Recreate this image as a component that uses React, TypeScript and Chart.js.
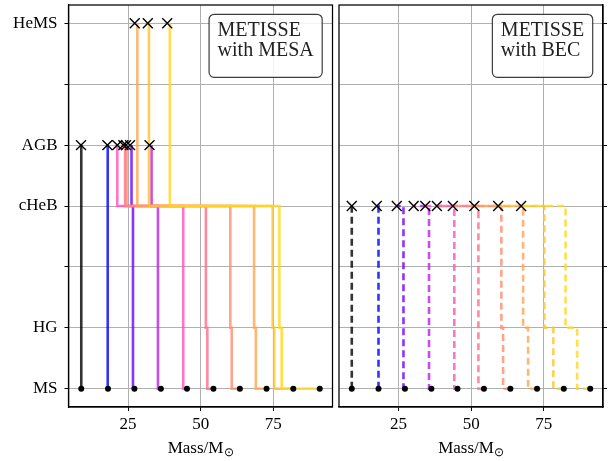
import React, { useEffect, useRef } from 'react';
import { Chart, registerables } from 'chart.js';

Chart.register(...registerables);

// ---------- data ----------
const PHASE_LABELS = ['MS', 'HG', '', 'cHeB', 'AGB', '', 'HeMS'];
const X_TICKS = [25, 50, 75];
const X_TITLE = 'Mass/M';
const X_TITLE_SUB = '⊙';
const MESA_LABEL = ['METISSE', 'with MESA'];
const BEC_LABEL = ['METISSE', 'with BEC'];

const TRACK_COLORS = [
  'rgba(0,0,0,0.8)',
  'rgba(0,0,255,0.8)',
  'rgba(110,0,255,0.8)',
  'rgba(190,30,230,0.8)',
  'rgba(255,80,190,0.8)',
  'rgba(255,110,140,0.8)',
  'rgba(255,140,110,0.8)',
  'rgba(255,165,80,0.8)',
  'rgba(255,195,40,0.8)',
  'rgba(255,215,30,0.8)',
];

const INITIAL_MASS = [8.9, 18.1, 27.2, 36.3, 45.3, 54.4, 63.5, 72.7, 81.9, 91.0];

// MESA tracks: masses and phase indices of each vertex
const MESA_M0 = [8.9, 8.9];
const MESA_P0 = [0, 4];
const MESA_M1 = [18.1, 18.0, 18.0];
const MESA_P1 = [0, 0, 4];
const MESA_M2 = [27.2, 26.7, 26.7, 26.2, 26.2];
const MESA_P2 = [0, 0, 3, 3, 4];
const MESA_M3 = [36.3, 35.3, 35.3, 33.1, 33.1];
const MESA_P3 = [0, 0, 3, 3, 4];
const MESA_M4 = [45.3, 44.0, 44.0, 21.3, 21.3];
const MESA_P4 = [0, 0, 3, 3, 4];
const MESA_M5 = [54.4, 52.3, 52.3, 51.8, 51.8, 24.0, 24.0];
const MESA_P5 = [0, 0, 1, 1, 3, 3, 4];
const MESA_M6 = [63.5, 60.7, 60.7, 60.2, 60.2, 24.5, 24.5];
const MESA_P6 = [0, 0, 1, 1, 3, 3, 4];
const MESA_M7 = [72.7, 69.0, 69.0, 68.4, 68.4, 28.2, 28.2];
const MESA_P7 = [0, 0, 1, 1, 3, 3, 6];
const MESA_M8 = [81.9, 75.3, 75.3, 74.8, 74.8, 32.2, 32.2];
const MESA_P8 = [0, 0, 1, 1, 3, 3, 6];
const MESA_M9 = [91.0, 77.9, 77.9, 77.1, 77.1, 39.4, 39.4];
const MESA_P9 = [0, 0, 1, 1, 3, 3, 6];
const MESA_FINAL_MASS = [8.8, 17.9, 25.7, 32.4, 21.3, 23.4, 24.3, 27.3, 31.8, 38.5];
const MESA_FINAL_PHASE = [4, 4, 4, 4, 4, 4, 4, 6, 6, 6];

// BEC tracks
const BEC_M0 = [8.9, 8.9];
const BEC_P0 = [0, 3];
const BEC_M1 = [18.1, 18.1, 18.1, 17.5];
const BEC_P1 = [0, 0, 3, 3];
const BEC_M2 = [27.2, 26.7, 26.7, 24.4];
const BEC_P2 = [0, 0, 3, 3];
const BEC_M3 = [36.3, 35.5, 35.5, 30.2];
const BEC_P3 = [0, 0, 3, 3];
const BEC_M4 = [45.3, 44.2, 44.2, 34.2];
const BEC_P4 = [0, 0, 3, 3];
const BEC_M5 = [54.4, 52.5, 52.5, 38.2];
const BEC_P5 = [0, 0, 3, 3];
const BEC_M6 = [63.5, 61.0, 61.0, 60.4, 60.4, 43.7];
const BEC_P6 = [0, 0, 1, 1, 3, 3];
const BEC_M7 = [72.7, 69.6, 69.6, 67.9, 67.9, 51.1];
const BEC_P7 = [0, 0, 1, 1, 3, 3];
const BEC_M8 = [81.9, 78.3, 78.3, 75.2, 75.2, 59.3];
const BEC_P8 = [0, 0, 1, 1, 3, 3];
const BEC_M9 = [91.0, 86.5, 86.5, 82.5, 82.5, 67.2];
const BEC_P9 = [0, 0, 1, 1, 3, 3];
const BEC_FINAL_MASS = [8.9, 17.5, 24.4, 30.2, 34.2, 38.2, 43.7, 51.1, 59.3, 67.2];
const BEC_FINAL_PHASE = [3, 3, 3, 3, 3, 3, 3, 3, 3, 3];

const MESA_TRACKS = [
  [MESA_M0, MESA_P0], [MESA_M1, MESA_P1], [MESA_M2, MESA_P2], [MESA_M3, MESA_P3], [MESA_M4, MESA_P4],
  [MESA_M5, MESA_P5], [MESA_M6, MESA_P6], [MESA_M7, MESA_P7], [MESA_M8, MESA_P8], [MESA_M9, MESA_P9],
];
const BEC_TRACKS = [
  [BEC_M0, BEC_P0], [BEC_M1, BEC_P1], [BEC_M2, BEC_P2], [BEC_M3, BEC_P3], [BEC_M4, BEC_P4],
  [BEC_M5, BEC_P5], [BEC_M6, BEC_P6], [BEC_M7, BEC_P7], [BEC_M8, BEC_P8], [BEC_M9, BEC_P9],
];

// ---------- style ----------
const FONT = "'Liberation Serif', 'Times New Roman', serif";
const W = 615;
const H = 461;

type PanelCfg = {
  tracks: number[][][];
  finalMass: number[];
  finalPhase: number[];
  dashed: boolean;
  side: 'left' | 'right';
  label: string[];
};

function buildConfig(cfg: PanelCfg): any {
  const datasets: any[] = [];
  datasets.push({
    data: INITIAL_MASS.map((m) => ({ x: m, y: 0 })),
    showLine: false,
    pointRadius: 3,
    pointBackgroundColor: '#000',
    pointBorderWidth: 0,
    order: 0,
  });
  datasets.push({
    data: cfg.finalMass.map((m, i) => ({ x: m, y: cfg.finalPhase[i] })),
    showLine: false,
    pointStyle: 'crossRot',
    pointRadius: 7,
    pointBorderColor: '#000',
    pointBorderWidth: 1.4,
    order: 1,
  });
  cfg.tracks.forEach(([ms, ps], i) => {
    datasets.push({
      data: ms.map((m, k) => ({ x: m, y: ps[k] })),
      showLine: true,
      pointRadius: 0,
      borderColor: TRACK_COLORS[i],
      borderWidth: 2.6,
      borderDash: cfg.dashed ? [7, 4] : [],
      borderCapStyle: 'butt',
      borderJoinStyle: 'miter',
      tension: 0,
      fill: false,
      order: 100 - i,
    });
  });

  const isLeft = cfg.side === 'left';

  const framePlugin = {
    id: 'frame',
    afterDraw(chart: any) {
      const { ctx, chartArea: a } = chart;
      ctx.save();
      ctx.strokeStyle = '#000';
      ctx.lineWidth = 1.25;
      ctx.strokeRect(a.left, a.top, a.right - a.left, a.bottom - a.top);

      // legend-like text box
      ctx.font = `20px ${FONT}`;
      const tw = Math.max(...cfg.label.map((t) => ctx.measureText(t).width));
      const pad = 8.5;
      const bw = tw + pad * 2;
      const bh = 63;
      const bx = a.right - 10.3 - bw;
      const by = a.top + 9.3;
      ctx.beginPath();
      if ((ctx as any).roundRect) (ctx as any).roundRect(bx, by, bw, bh, 5);
      else ctx.rect(bx, by, bw, bh);
      ctx.fillStyle = 'rgba(255,255,255,0.85)';
      ctx.fill();
      ctx.strokeStyle = 'rgba(40,40,40,0.9)';
      ctx.lineWidth = 1.2;
      ctx.stroke();
      ctx.fillStyle = '#222';
      ctx.textAlign = 'left';
      ctx.textBaseline = 'alphabetic';
      ctx.fillText(cfg.label[0], bx + pad, by + 22);
      ctx.fillText(cfg.label[1], bx + pad, by + 42);

      // x title with subscript
      ctx.font = `17px ${FONT}`;
      const w1 = ctx.measureText(X_TITLE).width;
      ctx.font = `12px ${FONT}`;
      const w2 = ctx.measureText(X_TITLE_SUB).width;
      const cx = (a.left + a.right) / 2;
      const x0 = cx - (w1 + w2) / 2;
      const yb = 453;
      ctx.fillStyle = '#000';
      ctx.font = `17px ${FONT}`;
      ctx.fillText(X_TITLE, x0, yb);
      ctx.font = `12px ${FONT}`;
      ctx.fillText(X_TITLE_SUB, x0 + w1 + 0.5, yb + 3);
      ctx.restore();
    },
  };

  return {
    type: 'scatter',
    data: { datasets },
    options: {
      responsive: false,
      animation: false,
      events: [],
      layout: {
        autoPadding: false,
        padding: isLeft
          ? { left: 0.5, right: W - 332.5, top: 5, bottom: 0 }
          : { left: 339, right: 0, top: 5, bottom: 0 },
      },
      plugins: { legend: { display: false }, tooltip: { enabled: false } },
      scales: {
        x: {
          type: 'linear',
          min: 4.5,
          max: 95.4,
          afterBuildTicks: (s: any) => {
            s.ticks = X_TICKS.map((v) => ({ value: v }));
          },
          afterFit: (s: any) => {
            s.height = 54;
            s.paddingLeft = 0;
            s.paddingRight = 0;
          },
          grid: { color: '#b0b0b0', lineWidth: 1, tickColor: '#000', tickLength: 4, tickWidth: 1 },
          border: { color: '#000', width: 1.25 },
          ticks: {
            color: '#000',
            font: { family: FONT, size: 17 },
            padding: 3,
            maxRotation: 0,
            callback: (v: any) => String(v),
          },
        },
        y: {
          type: 'linear',
          position: isLeft ? 'left' : 'right',
          min: -0.3,
          max: 6.3,
          afterBuildTicks: (s: any) => {
            s.ticks = PHASE_LABELS.map((_, i) => ({ value: i }));
          },
          afterFit: (s: any) => {
            s.width = isLeft ? 68 : 12;
            s.paddingTop = 0;
            s.paddingBottom = 0;
          },
          grid: { color: '#b0b0b0', lineWidth: 1, tickColor: '#000', tickLength: 4, tickWidth: 1 },
          border: { color: '#000', width: 1.25 },
          ticks: {
            color: '#000',
            font: { family: FONT, size: 17 },
            padding: 7,
            callback: (v: any) => (isLeft ? PHASE_LABELS[Math.round(v)] ?? '' : ''),
          },
        },
      },
    },
    plugins: [framePlugin],
  };
}

export default function App() {
  const leftRef = useRef<HTMLCanvasElement | null>(null);
  const rightRef = useRef<HTMLCanvasElement | null>(null);

  useEffect(() => {
    const left = new Chart(leftRef.current as HTMLCanvasElement, buildConfig({
      tracks: MESA_TRACKS,
      finalMass: MESA_FINAL_MASS,
      finalPhase: MESA_FINAL_PHASE,
      dashed: false,
      side: 'left',
      label: MESA_LABEL,
    }));
    const right = new Chart(rightRef.current as HTMLCanvasElement, buildConfig({
      tracks: BEC_TRACKS,
      finalMass: BEC_FINAL_MASS,
      finalPhase: BEC_FINAL_PHASE,
      dashed: true,
      side: 'right',
      label: BEC_LABEL,
    }));
    return () => {
      left.destroy();
      right.destroy();
    };
  }, []);

  const cstyle: React.CSSProperties = { position: 'absolute', left: 0, top: 0, width: W, height: H };
  return (
    <div style={{ position: 'fixed', left: 0, top: 0, width: W, height: H, background: '#fff' }}>
      <canvas ref={leftRef} width={W} height={H} style={cstyle} />
      <canvas ref={rightRef} width={W} height={H} style={cstyle} />
    </div>
  );
}
